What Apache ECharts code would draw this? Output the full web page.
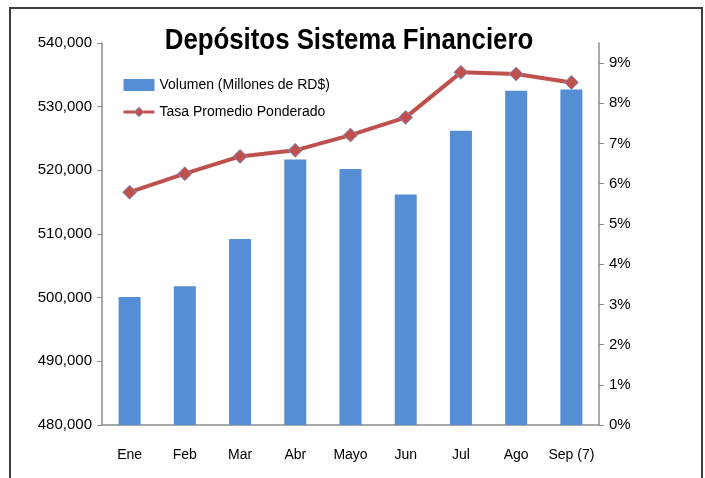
<!DOCTYPE html>
<html>
<head>
<meta charset="utf-8">
<script src="https://cdn.jsdelivr.net/npm/echarts@6/dist/echarts.min.js"></script>
<style>
  html, body { margin: 0; padding: 0; background: #fff; }
  #main { width: 705px; height: 478px; }
</style>
</head>
<body>
<div id="main"></div>
<script>
// datos
var meses = ["Ene", "Feb", "Mar", "Abr", "Mayo", "Jun", "Jul", "Ago", "Sep (7)"];
var volumen = [500100, 501800, 509200, 521700, 520200, 516200, 526200, 532500, 532700];
var tasa = [5.79, 6.25, 6.68, 6.83, 7.21, 7.65, 8.77, 8.73, 8.52];
var ticksTasa = [0, 1, 2, 3, 4, 5, 6, 7, 8, 9];

var fuente = "'Liberation Sans', sans-serif";

var myChart = echarts.init(document.getElementById("main"));

var option = {
  animation: false,
  textStyle: { fontFamily: fuente },
  legend: {
    orient: "vertical",
    left: 122,
    top: 78,
    padding: 0,
    itemWidth: 31,
    itemHeight: 12,
    itemGap: 13,
    textStyle: { fontSize: 14, color: "#000" },
    data: [
      { name: "Volumen (Millones de RD$)", icon: "rect" },
      {
        name: "Tasa Promedio Ponderado",
        lineStyle: { width: 3 },
        itemStyle: { borderWidth: 1 }
      }
    ]
  },
  graphic: [
    {
      type: "rect",
      shape: { x: 10, y: 8, width: 692, height: 490 },
      style: { fill: "none", stroke: "#3c3c3c", lineWidth: 2 },
      silent: true
    },
    {
      // titulo angostado para parecerse a la fuente original
      type: "text",
      x: 349,
      y: 41,
      scaleX: 0.86,
      style: {
        text: "Depósitos Sistema Financiero",
        fontSize: 30,
        fontWeight: "bold",
        fontFamily: fuente,
        fill: "#000",
        align: "center",
        verticalAlign: "middle"
      }
    }
  ],
  grid: { left: 102, right: 106, top: 43, bottom: 53 },
  xAxis: {
    type: "category",
    data: meses,
    axisLine: { lineStyle: { color: "#8c8c8c", width: 1.5 } },
    axisTick: { length: 6, lineStyle: { color: "#8c8c8c" } },
    axisLabel: { color: "#000", fontSize: 14, margin: 23, interval: 0 }
  },
  yAxis: [
    {
      type: "value",
      min: 480000,
      max: 540000,
      interval: 10000,
      splitLine: { show: false },
      axisLine: { show: true, lineStyle: { color: "#8c8c8c", width: 1.5 } },
      axisTick: { show: true, length: 5, lineStyle: { color: "#8c8c8c" } },
      axisLabel: {
        color: "#000",
        fontSize: 15,
        margin: 10,
        formatter: function (v) { return v.toLocaleString("en-US"); }
      }
    },
    {
      type: "value",
      min: 0,
      max: 9.5,
      interval: 1,
      position: "right",
      splitLine: { show: false },
      axisLine: { show: true, lineStyle: { color: "#8c8c8c", width: 1.5 } },
      axisTick: { show: true, length: 5, customValues: ticksTasa, lineStyle: { color: "#8c8c8c" } },
      axisLabel: {
        color: "#000",
        fontSize: 15,
        margin: 10,
        customValues: ticksTasa,
        formatter: function (v) { return v + "%"; }
      }
    }
  ],
  series: [
    {
      name: "Volumen (Millones de RD$)",
      type: "bar",
      data: volumen,
      barWidth: 22,
      itemStyle: { color: "#558ED5" }
    },
    {
      name: "Tasa Promedio Ponderado",
      type: "line",
      yAxisIndex: 1,
      data: tasa,
      symbol: "diamond",
      symbolSize: 14,
      lineStyle: { color: "#C0504D", width: 4 },
      itemStyle: { color: "#C0504D", borderColor: "#7E97C8", borderWidth: 1 }
    }
  ]
};

myChart.setOption(option);
</script>
</body>
</html>
